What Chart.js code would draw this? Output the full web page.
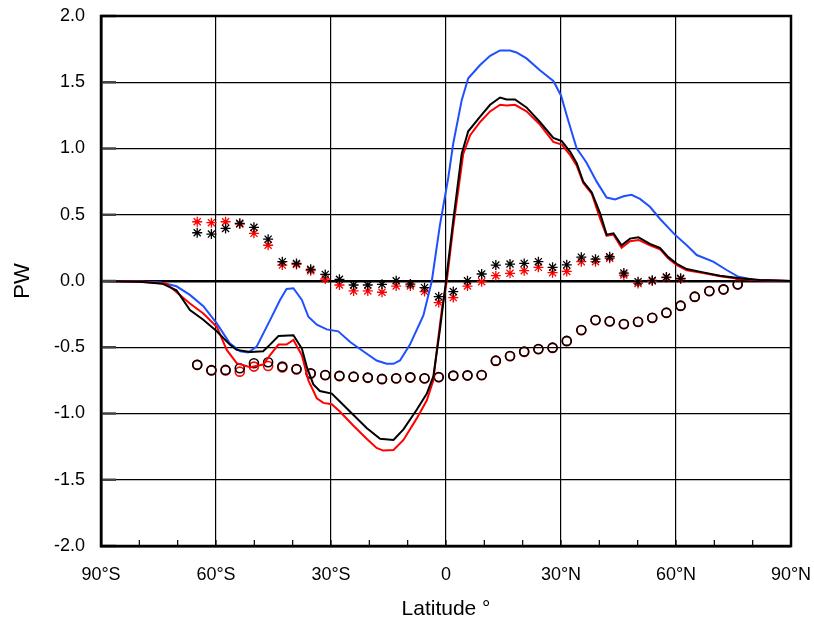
<!DOCTYPE html>
<html lang="en">
<head>
    <meta charset="UTF-8">
    <title>PW</title>
    <style>
        body { margin: 0; background: #fff; }
        #wrap { width: 814px; height: 624px; }
    </style>
</head>
<body>
<div id="wrap"><canvas id="myChart" width="814" height="624"></canvas></div>

<script src="https://cdn.jsdelivr.net/npm/chart.js"></script>
<script>
    // lines
    const blackLat = [-90, -80, -74, -70.3, -66.8, -63.4, -59.8, -56.4, -54.6, -51, -47.7, -45.9, -43.7, -39.8, -37.6, -36.3, -34.6, -32.9, -29.8, -27.7, -24.2, -20.7, -17.2, -13.7, -11.1, -7.6, -5, -3.3, -1.6, 0, 1.9, 4.1, 5.8, 8.9, 11.5, 14.1, 15.8, 18, 21, 24.5, 28, 30.2, 32.4, 34.1, 35.8, 38, 40.2, 41.9, 43.7, 45.8, 48, 50.2, 53.2, 55.8, 58, 60.2, 62.8, 67.1, 71.5, 76.7, 81.9, 90];
    const blackPW = [0, -0.005, -0.02, -0.07, -0.22, -0.29, -0.38, -0.48, -0.52, -0.535, -0.53, -0.48, -0.415, -0.41, -0.51, -0.65, -0.78, -0.83, -0.85, -0.91, -1.01, -1.11, -1.19, -1.2, -1.12, -0.97, -0.85, -0.72, -0.37, 0.0, 0.46, 0.96, 1.13, 1.24, 1.33, 1.385, 1.37, 1.37, 1.31, 1.2, 1.08, 1.056, 0.975, 0.89, 0.75, 0.67, 0.51, 0.35, 0.36, 0.27, 0.32, 0.33, 0.28, 0.25, 0.18, 0.13, 0.09, 0.065, 0.04, 0.02, 0.008, 0];

    const redLat = [-90, -80, -72.9, -66.8, -63.3, -59.8, -57.2, -54.6, -51.1, -47.7, -45.9, -43.7, -41.6, -39.8, -37.6, -35.9, -33.7, -32, -29.8, -27.7, -24.2, -20.7, -18.1, -16.4, -13.7, -11.1, -7.6, -5, -3.3, -2.4, -1.1, 0.2, 1.9, 4.5, 6.3, 8.9, 11.5, 14.1, 15.8, 18, 21, 24.5, 28, 30.2, 32.4, 34.1, 35.8, 38, 40.2, 41.9, 43.7, 45.8, 48, 50.2, 53.2, 55.8, 58, 60.2, 62.8, 67.1, 71.5, 76.7, 81.9, 90];
    const redPW = [0, -0.003, -0.02, -0.17, -0.245, -0.345, -0.52, -0.62, -0.65, -0.63, -0.56, -0.48, -0.48, -0.445, -0.56, -0.75, -0.885, -0.92, -0.93, -0.985, -1.09, -1.19, -1.26, -1.28, -1.275, -1.2, -1.035, -0.9, -0.75, -0.52, -0.22, 0, 0.41, 0.96, 1.1, 1.2, 1.28, 1.33, 1.325, 1.33, 1.28, 1.18, 1.05, 1.03, 0.95, 0.87, 0.74, 0.66, 0.47, 0.34, 0.35, 0.25, 0.3, 0.31, 0.27, 0.24, 0.17, 0.12, 0.08, 0.06, 0.035, 0.015, 0.005, 0];

    const blueLat = [-90, -80, -74.6, -70.3, -66.8, -63.3, -59.8, -56.4, -53.7, -51.6, -49.4, -45.9, -43.3, -41.6, -39.8, -37.6, -35.9, -33.7, -31.1, -28.1, -25, -21.6, -18.1, -15.5, -13.7, -12, -9.4, -5.9, -3.7, -1.6, 0.6, 1.9, 4.1, 5.8, 8.9, 11.5, 14.1, 16.7, 18.4, 21, 24.5, 28, 30, 31.9, 34.1, 35.8, 36.7, 39.3, 41.9, 44.1, 46.3, 48.4, 50.6, 53.2, 55.8, 59.7, 62.8, 65.4, 69.7, 73.2, 76.3, 80.2, 90];
    const bluePW = [0, -0.003, -0.01, -0.04, -0.105, -0.19, -0.32, -0.47, -0.53, -0.54, -0.495, -0.295, -0.143, -0.06, -0.055, -0.143, -0.27, -0.33, -0.365, -0.38, -0.46, -0.53, -0.6, -0.625, -0.625, -0.6, -0.48, -0.26, 0.0, 0.42, 0.78, 1.04, 1.365, 1.53, 1.63, 1.7, 1.74, 1.74, 1.725, 1.68, 1.59, 1.51, 1.4, 1.21, 1.0, 0.93, 0.89, 0.75, 0.63, 0.615, 0.64, 0.65, 0.62, 0.56, 0.47, 0.35, 0.27, 0.196, 0.146, 0.083, 0.032, 0.01, 0];

    // markers (gaussian latitudes)
    const starLat = [-64.9, -61.2, -57.5, -53.8, -50.1, -46.4, -42.7, -39.0, -35.3, -31.5, -27.8, -24.1, -20.4, -16.7, -13.0, -9.3, -5.6, -1.9, 1.9, 5.6, 9.3, 13.0, 16.7, 20.4, 24.1, 27.8, 31.5, 35.3, 39.0, 42.7, 46.4, 50.1, 53.8, 57.5, 61.2];
    const starBlack = [0.364, 0.354, 0.397, 0.435, 0.405, 0.316, 0.146, 0.133, 0.088, 0.05, 0.013, -0.03, -0.03, -0.025, 0.002, -0.023, -0.05, -0.118, -0.08, 0.002, 0.053, 0.12, 0.128, 0.133, 0.146, 0.103, 0.122, 0.18, 0.165, 0.183, 0.06, -0.005, 0.005, 0.03, 0.02];
    const starRed = [0.447, 0.44, 0.447, 0.43, 0.36, 0.27, 0.12, 0.125, 0.078, 0.015, -0.03, -0.075, -0.075, -0.085, -0.038, -0.038, -0.08, -0.163, -0.125, -0.038, -0.005, 0.04, 0.058, 0.078, 0.103, 0.063, 0.072, 0.146, 0.146, 0.171, 0.045, -0.018, 0.0, 0.025, 0.015];

    const circLat = [-64.9, -61.2, -57.5, -53.8, -50.1, -46.4, -42.7, -39.0, -35.3, -31.5, -27.8, -24.1, -20.4, -16.7, -13.0, -9.3, -5.6, -1.9, 1.9, 5.6, 9.3, 13.0, 16.7, 20.4, 24.1, 27.8, 31.5, 35.3, 39.0, 42.7, 46.4, 50.1, 53.8, 57.5, 61.2, 64.9, 68.7, 72.4, 76.1];
    const circBlack = [-0.633, -0.673, -0.671, -0.659, -0.621, -0.613, -0.646, -0.664, -0.696, -0.709, -0.716, -0.722, -0.729, -0.739, -0.734, -0.727, -0.734, -0.725, -0.714, -0.712, -0.709, -0.601, -0.566, -0.533, -0.513, -0.503, -0.452, -0.37, -0.294, -0.304, -0.324, -0.307, -0.277, -0.239, -0.186, -0.118, -0.075, -0.063, -0.025];
    const circRed = [-0.633, -0.676, -0.676, -0.684, -0.646, -0.641, -0.652, -0.668, -0.7, -0.711, -0.718, -0.724, -0.731, -0.741, -0.736, -0.729, -0.736, -0.727, -0.716, -0.714, -0.711, -0.603, -0.568, -0.535, -0.515, -0.505, -0.454, -0.372, -0.296, -0.306, -0.326, -0.309, -0.279, -0.241, -0.188, -0.12, -0.077, -0.065, -0.027];

    const yTicks = [-2, -1.5, -1, -0.5, 0, 0.5, 1, 1.5, 2];

    function pts(xs, ys) {
        return xs.map((x, i) => ({ x: x, y: ys[i] }));
    }

    const FONT = "'Liberation Sans', Arial, Helvetica, sans-serif";

    const frame = {
        id: 'frame',
        afterDraw(chart) {
            const c = chart.ctx, a = chart.chartArea;
            const xs = chart.scales.x, ys = chart.scales.y;
            c.save();
            // inward ticks
            c.strokeStyle = '#000';
            c.lineWidth = 1.2;
            for (let v = -80; v <= 80; v += 10) {
                const px = xs.getPixelForValue(v);
                c.beginPath();
                c.moveTo(px, a.bottom);
                c.lineTo(px, a.bottom - 6);
                c.stroke();
            }
            c.strokeStyle = '#444';
            c.lineWidth = 2.5;
            yTicks.forEach(v => {
                const py = ys.getPixelForValue(v);
                c.beginPath();
                c.moveTo(a.left, py);
                c.lineTo(a.left + 15, py);
                c.stroke();
            });
            c.strokeStyle = '#000';
            c.lineWidth = 2.5;
            c.strokeRect(a.left, a.top, a.right - a.left, a.bottom - a.top);
            c.restore();
        }
    };

    const lineStyle = { showLine: true, pointRadius: 0, borderWidth: 2, tension: 0, fill: false };

    new Chart(document.getElementById('myChart'), {
        type: 'scatter',
        data: {
            datasets: [
                Object.assign({ data: pts(blackLat, blackPW), borderColor: '#000000', order: 1 }, lineStyle),
                Object.assign({ data: pts(redLat, redPW), borderColor: '#ff0000', order: 2 }, lineStyle),
                Object.assign({ data: pts(blueLat, bluePW), borderColor: '#1e50ff', order: 3 }, lineStyle),
                { data: pts(starLat, starBlack), pointStyle: 'star', pointRadius: 5, borderColor: '#000', borderWidth: 1.3, backgroundColor: 'transparent', order: 4 },
                { data: pts(starLat, starRed), pointStyle: 'star', pointRadius: 5, borderColor: '#ff0000', borderWidth: 1.3, backgroundColor: 'transparent', order: 5 },
                { data: pts(circLat, circBlack), pointStyle: 'circle', pointRadius: 4.5, borderColor: '#000', borderWidth: 1.6, backgroundColor: 'transparent', order: 6 },
                { data: pts(circLat, circRed), pointStyle: 'circle', pointRadius: 4.5, borderColor: '#ff0000', borderWidth: 1.6, backgroundColor: 'transparent', order: 7 }
            ]
        },
        options: {
            responsive: false,
            animation: false,
            layout: { padding: { top: 16, right: 23, left: 0, bottom: 0 } },
            plugins: { legend: { display: false }, tooltip: { enabled: false } },
            scales: {
                x: {
                    type: 'linear', min: -90, max: 90,
                    afterFit: s => { s.height = 78; s.paddingLeft = 0; s.paddingRight = 0; },
                    ticks: {
                        stepSize: 10, autoSkip: false, maxRotation: 0, padding: 18,
                        color: '#000', font: { family: FONT, size: 18 },
                        callback: v => (v % 30 !== 0) ? '' : (v === 0 ? '0' : (v < 0 ? (-v) + '°S' : v + '°N'))
                    },
                    grid: {
                        drawTicks: false,
                        color: ctx => (ctx.tick && ctx.tick.value % 30 === 0) ? '#000' : 'rgba(0,0,0,0)',
                        lineWidth: 1.2
                    },
                    border: { display: true, color: '#000', width: 2.5 },
                    title: { display: true, text: 'Latitude °', color: '#000', font: { family: FONT, size: 21 }, padding: { top: 2, bottom: 2 } }
                },
                y: {
                    min: -2, max: 2,
                    afterFit: s => { s.width = 101; s.paddingTop = 0; s.paddingBottom = 0; },
                    afterBuildTicks: s => { s.ticks = yTicks.map(v => ({ value: v })); },
                    ticks: {
                        padding: 16, color: '#000', font: { family: FONT, size: 18 },
                        callback: v => v.toFixed(1)
                    },
                    grid: {
                        drawTicks: false, color: '#000',
                        lineWidth: ctx => (ctx.tick && ctx.tick.value === 0) ? 2.5 : 1.2
                    },
                    border: { display: true, color: '#000', width: 2.5 },
                    title: { display: true, text: 'PW', color: '#000', font: { family: FONT, size: 22 }, padding: { top: 10, bottom: 10 } }
                }
            }
        },
        plugins: [frame]
    });
</script>
</body>
</html>
